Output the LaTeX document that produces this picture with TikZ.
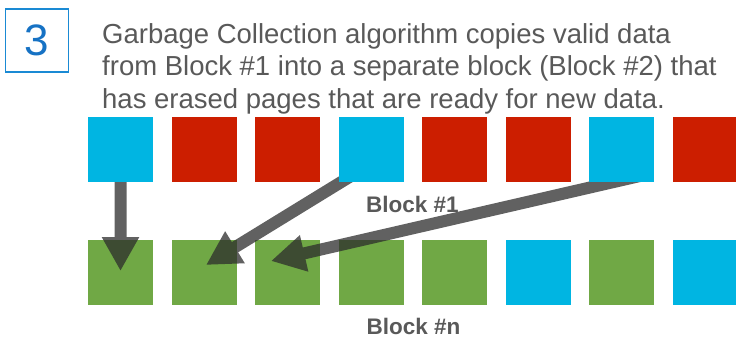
\documentclass[tikz,border=0pt]{standalone}
\usepackage{fontspec}
\setmainfont{Liberation Sans}
\usetikzlibrary{chains, positioning, calc, arrows.meta}
\definecolor{validblue}{HTML}{00B5E2}
\definecolor{stalered}{HTML}{CC1E00}
\definecolor{erasedgreen}{HTML}{70A845}
\definecolor{textgray}{HTML}{595959}
\definecolor{stepblue}{HTML}{1A8AD4}
\definecolor{stepnumblue}{HTML}{1672C4}
\definecolor{arrowgray}{HTML}{2C2C2C}
\pgfdeclarelayer{front}
\pgfsetlayers{main,front}
\tikzset{
  page/.style = {inner sep=0, outer sep=0, minimum size=65pt},
  copyarrow/.style = {draw=arrowgray, line width=12pt, -{Triangle[width=35pt, length=34pt]}},
  blocklabel/.style = {inner sep=0, font=\fontsize{22.5}{25}\selectfont\bfseries, text=textgray},
}

\begin{document}
\begin{tikzpicture}[x=1pt, y=-1pt]
  \useasboundingbox (0,0) rectangle (736,338);

  % step number and explanation
  \node (stepbox) [draw=stepblue, line width=1.3pt, minimum size=63pt, inner sep=0,
    font=\fontsize{44}{44}\selectfont, text=stepnumblue] at (37,40.5) {3};
  \node (intro) [anchor=base west, align=left, inner sep=0, text=textgray,
    font=\fontsize{27.5}{32.5}\selectfont] at (102,108)
    {Garbage Collection algorithm copies valid data\\
     from Block \#1 into a separate block (Block \#2) that\\
     has erased pages that are ready for new data.};

  % block #1 on top of the arrows
  \begin{pgfonlayer}{front}
    \begin{scope}[shift={(120.5,149.5)}, start chain=top going right, node distance=18.5pt]
      \foreach \c [count=\i] in {validblue, stalered, stalered, validblue,
                                 stalered, stalered, validblue, stalered} {
        \node (top\i) [page, fill=\c, on chain=top] {};
      }
    \end{scope}
  \end{pgfonlayer}

  % block #n
  \begin{scope}[shift={(120.5,272.5)}, start chain=bottom going right, node distance=18.5pt]
    \foreach \c [count=\i] in {erasedgreen, erasedgreen, erasedgreen, erasedgreen,
                               erasedgreen, validblue, erasedgreen, validblue} {
      \node (bottom\i) [page, fill=\c, on chain=bottom] {};
    }
  \end{scope}

  \node (labelone) [blocklabel] at (412.5,204.5) {Block \#1};
  \node (labeln) [blocklabel] at (413.5,326) {Block \#n};

  % valid pages copied over
  \begin{scope}[transparency group, opacity=0.75]
    \draw [copyarrow] (top1.center) -- ($(bottom1.center)+(0,-1.5)$);
    \draw [copyarrow] ($(top4.center)+(4.5,11.5)$) -- ($(bottom2.center)+(2,-7.5)$);
    \draw [copyarrow] ($(top7.center)+(27,24.5)$) -- ($(bottom3.center)+(-16.5,-11.5)$);
  \end{scope}
\end{tikzpicture}
\end{document}
